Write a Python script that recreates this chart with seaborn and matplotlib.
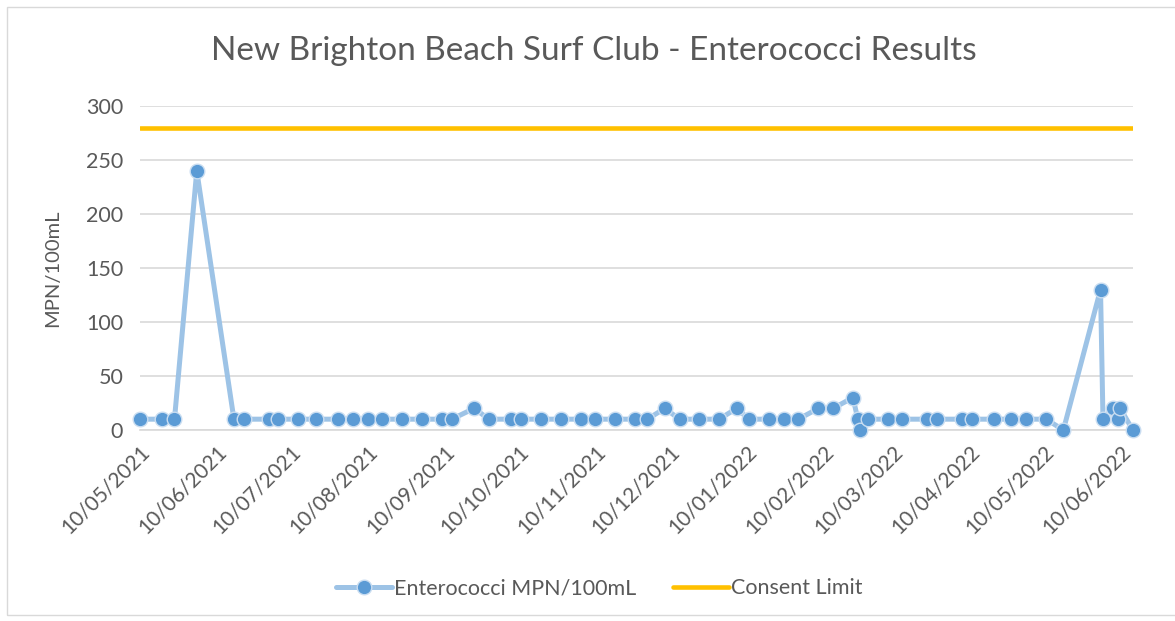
# New Brighton Beach Surf Club - Enterococci results, Excel style line chart
import matplotlib
matplotlib.use('Agg')
import matplotlib.pyplot as plt
import matplotlib.dates as mdates
from matplotlib.lines import Line2D
from matplotlib.patches import Rectangle
import pandas as pd
import seaborn as sns

# Data
sample_dates = [
    '2021-05-10', '2021-05-19', '2021-05-24', '2021-06-02', '2021-06-17',
    '2021-06-21', '2021-07-01', '2021-07-05', '2021-07-13', '2021-07-20',
    '2021-07-29', '2021-08-04', '2021-08-10', '2021-08-16', '2021-08-24',
    '2021-09-01', '2021-09-09', '2021-09-13', '2021-09-22', '2021-09-28',
    '2021-10-07', '2021-10-11', '2021-10-19', '2021-10-27', '2021-11-04',
    '2021-11-10', '2021-11-18', '2021-11-26', '2021-12-01', '2021-12-08',
    '2021-12-14', '2021-12-22', '2021-12-30', '2022-01-06', '2022-01-11',
    '2022-01-19', '2022-01-25', '2022-01-31', '2022-02-08', '2022-02-14',
    '2022-02-22', '2022-02-24', '2022-02-25', '2022-02-28', '2022-03-08',
    '2022-03-14', '2022-03-24', '2022-03-28', '2022-04-07', '2022-04-11',
    '2022-04-20', '2022-04-27', '2022-05-03', '2022-05-11', '2022-05-18',
    '2022-06-02', '2022-06-03', '2022-06-07', '2022-06-09', '2022-06-10',
    '2022-06-15',
]
enterococci = [
    10, 10, 10, 240, 10,
    10, 10, 10, 10, 10,
    10, 10, 10, 10, 10,
    10, 10, 10, 20, 10,
    10, 10, 10, 10, 10,
    10, 10, 10, 10, 20,
    10, 10, 10, 20, 10,
    10, 10, 10, 20, 20,
    30, 10, 0, 10, 10,
    10, 10, 10, 10, 10,
    10, 10, 10, 10, 0,
    130, 10, 20, 10, 20,
    0,
]
consent_limit = 280

title = 'New Brighton Beach Surf Club - Enterococci Results'
y_label = 'MPN/100mL'
series_label = 'Enterococci MPN/100mL'
limit_label = 'Consent Limit'

df = pd.DataFrame({'Date': pd.to_datetime(sample_dates),
                   'Value': enterococci})
limit_df = pd.DataFrame({'Date': [df['Date'].min(), df['Date'].max()],
                         'Value': [consent_limit, consent_limit]})

sns.set_style('white')
plt.rcParams['font.family'] = ['Lato', 'DejaVu Sans']

text_grey = '#595959'
grid_grey = '#D9D9D9'
line_blue = '#9DC3E6'
dot_blue = '#5B9BD5'
dot_edge = '#C9DDF1'
gold = '#FFC000'

fig = plt.figure(figsize=(11.75, 6.21), dpi=100)
ax = fig.add_axes([0.119, 0.3076, 0.845, 0.5217])

sns.lineplot(data=limit_df, x='Date', y='Value', ax=ax, color=gold,
             linewidth=3.3, estimator=None, sort=False, zorder=2,
             solid_capstyle='round')
sns.lineplot(data=df, x='Date', y='Value', ax=ax, color=line_blue,
             linewidth=3.6, estimator=None, sort=False, marker='o',
             markersize=10.5, markerfacecolor=dot_blue,
             markeredgecolor=dot_edge, markeredgewidth=1.0, zorder=3,
             clip_on=False)

ax.set_ylim(0, 300)
ax.set_yticks(range(0, 301, 50))
ax.set_xlim(df['Date'].min(), df['Date'].max())
ax.xaxis.set_major_locator(mdates.MonthLocator(bymonthday=10))
ax.xaxis.set_major_formatter(mdates.DateFormatter('%d/%m/%Y'))

ax.grid(axis='y', color=grid_grey, linewidth=1.2)
ax.set_axisbelow(True)
for side in ['top', 'left', 'right']:
    ax.spines[side].set_visible(False)
ax.spines['bottom'].set_color(grid_grey)
ax.spines['bottom'].set_linewidth(1.2)
ax.spines['bottom'].set_zorder(1)

ax.tick_params(axis='x', direction='out', length=5, width=1.2,
               color=grid_grey, labelsize=15, labelcolor=text_grey, pad=3)
ax.tick_params(axis='y', length=0, labelsize=15.5, labelcolor=text_grey, pad=12)
for lbl in ax.get_xticklabels():
    lbl.set_rotation(45)
    lbl.set_ha('right')
    lbl.set_rotation_mode('anchor')

ax.set_xlabel('')
ax.set_ylabel(y_label, fontsize=14.5, color=text_grey, labelpad=18)
fig.text(0.505, 0.918, title, ha='center', va='center',
         fontsize=24, color=text_grey)

handles = [
    Line2D([], [], color=line_blue, linewidth=3.6, marker='o', markersize=10.5,
           markerfacecolor=dot_blue, markeredgecolor=dot_edge),
    Line2D([], [], color=gold, linewidth=3.3),
]
fig.legend(handles, [series_label, limit_label], loc='center',
           bbox_to_anchor=(0.51, 0.053), ncol=2, frameon=False,
           fontsize=15.5, labelcolor=text_grey, handlelength=2.6,
           handletextpad=0.1, columnspacing=1.7)

# thin chart-area border like the Excel export
fig.patches.append(Rectangle((0.006, 0.01), 1.0, 0.979, transform=fig.transFigure,
                             fill=False, edgecolor=grid_grey, linewidth=1))

fig.savefig('out.png', dpi=100, facecolor='white')
